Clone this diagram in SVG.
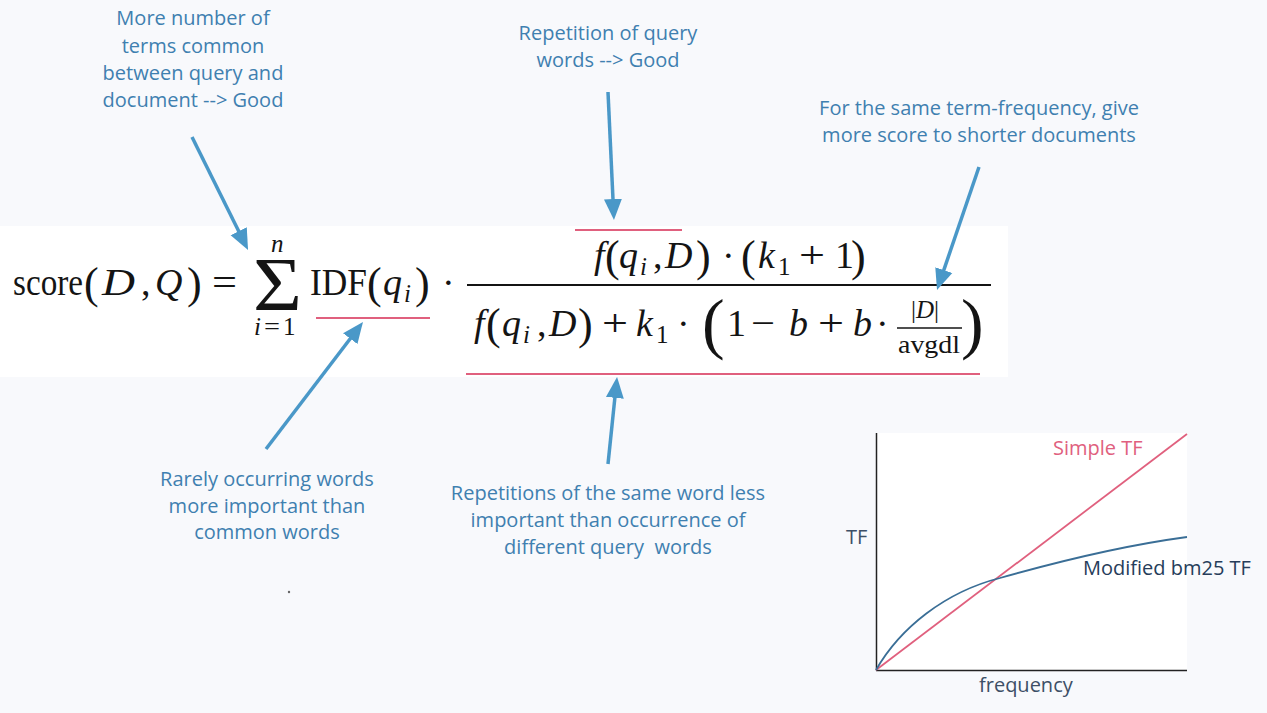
<svg xmlns="http://www.w3.org/2000/svg" width="1267" height="713" viewBox="0 0 1267 713">
<defs>
<style>
.ann{font-family:"Open Sans","Noto Sans",sans-serif;font-size:20px;fill:#3f80b0;text-anchor:middle}
.m{font-family:"Liberation Serif","DejaVu Serif",serif;font-size:38px;fill:#141414}
.mi{font-family:"Liberation Serif","DejaVu Serif",serif;font-size:38px;font-style:italic;fill:#141414}
.p{font-family:"Liberation Serif","DejaVu Serif",serif;font-size:44px;fill:#141414}
.s{font-family:"Liberation Serif","DejaVu Serif",serif;font-size:25px;fill:#141414}
.si{font-family:"Liberation Serif","DejaVu Serif",serif;font-size:25px;font-style:italic;fill:#141414}
.big{font-family:"Liberation Serif","DejaVu Serif",serif;font-size:68px;fill:#141414}
.arr{stroke:#4a98c8;stroke-width:3.5;fill:none;marker-end:url(#ah)}
.ul{stroke:#e0607e;stroke-width:2.2}
.lbl{font-family:"Open Sans","Noto Sans",sans-serif;font-size:20px}
</style>
<marker id="ah" markerUnits="userSpaceOnUse" markerWidth="22" markerHeight="20" viewBox="0 0 22 20" refX="9" refY="10" orient="auto">
<path d="M0,1 L21,10 L0,19 z" fill="#4a98c8"/>
</marker>
</defs>
<rect x="0" y="0" width="1267" height="713" fill="#f8f9fc"/>
<g id="formula">
<rect x="0" y="226" width="1008" height="151" fill="#ffffff"/>
<text class="m" x="13" y="295" textLength="70" lengthAdjust="spacingAndGlyphs">score</text>
<text class="p" x="84" y="298">(</text>
<text class="mi" x="102" y="295" textLength="33" lengthAdjust="spacingAndGlyphs">D</text>
<text class="m" x="141" y="295">,</text>
<text class="mi" x="155" y="295">Q</text>
<text class="p" x="187" y="298">)</text>
<text class="m" x="212" y="295" textLength="25" lengthAdjust="spacingAndGlyphs">=</text>
<text class="big" x="253" y="310" style="font-size:76px" textLength="49" lengthAdjust="spacingAndGlyphs">Σ</text>
<text class="si" x="271" y="252">n</text>
<text class="si" x="254" y="335">i</text>
<text class="s" x="264" y="335" textLength="16" lengthAdjust="spacingAndGlyphs">=</text>
<text class="s" x="283" y="335">1</text>
<text class="m" x="310" y="295" textLength="57" lengthAdjust="spacingAndGlyphs">IDF</text>
<text class="p" x="367" y="298">(</text>
<text class="mi" x="383" y="295">q</text>
<text class="si" x="404" y="302">i</text>
<text class="p" x="415" y="298">)</text>
<text class="m" x="442" y="295">·</text>
<line x1="467" y1="285" x2="991" y2="285" stroke="#141414" stroke-width="2"/>
<text class="mi" x="594" y="268">f</text>
<text class="p" x="605" y="271">(</text>
<text class="mi" x="619" y="268">q</text>
<text class="si" x="640" y="275">i</text>
<text class="m" x="653" y="268">,</text>
<text class="mi" x="665" y="268">D</text>
<text class="p" x="696" y="271">)</text>
<text class="m" x="722" y="268">·</text>
<text class="p" x="741" y="271">(</text>
<text class="mi" x="758" y="268">k</text>
<text class="s" x="778" y="275">1</text>
<text class="m" x="799" y="268" textLength="26" lengthAdjust="spacingAndGlyphs">+</text>
<text class="m" x="835" y="268">1</text>
<text class="p" x="851" y="271">)</text>
<text class="mi" x="474" y="336">f</text>
<text class="p" x="486" y="339">(</text>
<text class="mi" x="502" y="336">q</text>
<text class="si" x="523" y="343">i</text>
<text class="m" x="537" y="336">,</text>
<text class="mi" x="549" y="336">D</text>
<text class="p" x="578" y="339">)</text>
<text class="m" x="602" y="336" textLength="26" lengthAdjust="spacingAndGlyphs">+</text>
<text class="mi" x="636" y="336">k</text>
<text class="s" x="656" y="343">1</text>
<text class="m" x="677" y="336">·</text>
<text class="big" x="702" y="346">(</text>
<text class="m" x="727" y="336">1</text>
<text class="m" x="751" y="336" textLength="24" lengthAdjust="spacingAndGlyphs">−</text>
<text class="mi" x="789" y="336">b</text>
<text class="m" x="818" y="336" textLength="26" lengthAdjust="spacingAndGlyphs">+</text>
<text class="mi" x="853" y="336">b</text>
<text class="m" x="876" y="336">·</text>
<text x="911" y="318"><tspan class="s">|</tspan><tspan class="si">D</tspan><tspan class="s">|</tspan></text>
<line x1="897" y1="328" x2="962" y2="328" stroke="#141414" stroke-width="1.3"/>
<text class="s" x="898" y="353" textLength="62" lengthAdjust="spacingAndGlyphs">avgdl</text>
<text class="big" x="961" y="346">)</text>
</g>
<g id="underlines">
<line class="ul" x1="316" y1="318" x2="430" y2="318"/>
<line class="ul" x1="575" y1="230" x2="682" y2="230"/>
<line class="ul" x1="466" y1="374" x2="980" y2="374"/>
</g>
<g id="note-common-terms">
<text class="ann"><tspan x="193" y="25">More number of</tspan><tspan x="193" y="53">terms common</tspan><tspan x="193" y="80">between query and</tspan><tspan x="193" y="107">document --&gt; Good</tspan></text>
</g>
<g id="note-repetition">
<text class="ann"><tspan x="608" y="40">Repetition of query</tspan><tspan x="608" y="67">words --&gt; Good</tspan></text>
</g>
<g id="note-short-docs">
<text class="ann"><tspan x="979" y="115">For the same term-frequency, give</tspan><tspan x="979" y="142">more score to shorter documents</tspan></text>
</g>
<g id="note-rare-words">
<text class="ann"><tspan x="267" y="486">Rarely occurring words</tspan><tspan x="267" y="513">more important than</tspan><tspan x="267" y="539">common words</tspan></text>
</g>
<g id="note-same-word">
<text class="ann" xml:space="preserve"><tspan x="608" y="500">Repetitions of the same word less</tspan><tspan x="608" y="527">important than occurrence of</tspan><tspan x="608" y="554">different query  words</tspan></text>
</g>
<g id="connectors">
<line class="arr" x1="192" y1="137" x2="242.7" y2="239.2"/>
<line class="arr" x1="608" y1="92" x2="613.4" y2="208"/>
<line class="arr" x1="979" y1="167" x2="940.9" y2="278.6"/>
<line class="arr" x1="266" y1="449" x2="355.7" y2="331.5"/>
<line class="arr" x1="608" y1="464" x2="615.8" y2="388.9"/>
</g>
<circle cx="289" cy="592" r="1.2" fill="#666"/>
<g id="tf-chart">
<rect x="876" y="433" width="311" height="237" fill="#ffffff"/>
<line x1="876.5" y1="433" x2="876.5" y2="670.5" stroke="#222" stroke-width="1.5"/>
<line x1="876" y1="670.5" x2="1187" y2="670.5" stroke="#222" stroke-width="1.5"/>
<line x1="876" y1="670" x2="1187" y2="434" stroke="#e0607e" stroke-width="1.8"/>
<path d="M876,670 C900,628 945,592 1000,578 C1060,561 1120,546 1187,537" fill="none" stroke="#3a6e96" stroke-width="1.8"/>
<text class="lbl" x="1053" y="455" fill="#e0607e">Simple TF</text>
<text class="lbl" x="1083" y="575" fill="#263d5a">Modified bm25 TF</text>
<text class="lbl" x="846" y="544" fill="#3d4f66">TF</text>
<text class="lbl" x="979" y="692" fill="#3d4f66">frequency</text>
</g>
</svg>
